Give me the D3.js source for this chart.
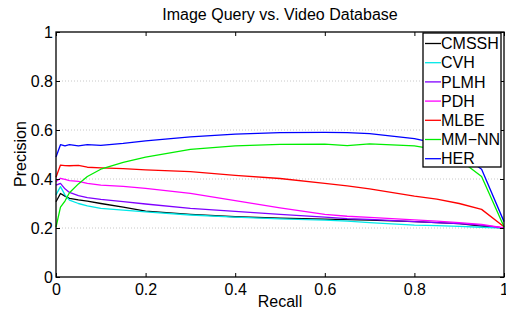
<!DOCTYPE html>
<html><head><meta charset="utf-8">
<script src="https://cdn.jsdelivr.net/npm/d3@7"></script>
<style>body{margin:0;background:#fff;} text{font-family:"Liberation Sans",Arial,Helvetica,sans-serif;}</style>
</head><body><svg id="c" width="506" height="309"></svg>
<script>
const recall = [0, 0.01, 0.02, 0.03, 0.05, 0.07, 0.1, 0.15, 0.2, 0.3, 0.4, 0.5, 0.6, 0.65, 0.7, 0.8, 0.85, 0.9, 0.95, 1];
const CMSSH = [0.307, 0.341, 0.33, 0.321, 0.315, 0.31, 0.3, 0.285, 0.269, 0.256, 0.246, 0.24, 0.236, 0.234, 0.232, 0.226, 0.222, 0.218, 0.208, 0.2];
const CVH   = [0.335, 0.369, 0.335, 0.314, 0.3, 0.29, 0.28, 0.273, 0.266, 0.253, 0.244, 0.237, 0.232, 0.228, 0.222, 0.212, 0.21, 0.207, 0.203, 0.2];
const PLMH  = [0.375, 0.382, 0.36, 0.345, 0.332, 0.324, 0.317, 0.308, 0.298, 0.28, 0.268, 0.256, 0.244, 0.238, 0.235, 0.226, 0.222, 0.218, 0.212, 0.2];
const PDH   = [0.39, 0.403, 0.398, 0.393, 0.39, 0.382, 0.375, 0.37, 0.362, 0.341, 0.312, 0.282, 0.256, 0.248, 0.243, 0.233, 0.228, 0.222, 0.215, 0.2];
const MLBE  = [0.407, 0.457, 0.455, 0.454, 0.456, 0.448, 0.445, 0.442, 0.437, 0.43, 0.415, 0.402, 0.382, 0.372, 0.36, 0.33, 0.318, 0.3, 0.276, 0.205];
const MMNN  = [0.204, 0.285, 0.31, 0.344, 0.38, 0.41, 0.44, 0.468, 0.489, 0.521, 0.535, 0.541, 0.542, 0.536, 0.543, 0.535, 0.52, 0.48, 0.41, 0.205];
const HER   = [0.49, 0.54, 0.535, 0.54, 0.535, 0.54, 0.537, 0.545, 0.556, 0.572, 0.583, 0.589, 0.59, 0.589, 0.585, 0.565, 0.545, 0.505, 0.44, 0.226];
const seriesNames = ["CMSSH", "CVH", "PLMH", "PDH", "MLBE", "MM\u2212NN", "HER"];
const seriesValues = [CMSSH, CVH, PLMH, PDH, MLBE, MMNN, HER];
const seriesColors = ["#000000", "#00e8e8", "#8000ff", "#ff00ff", "#ff0000", "#00ee00", "#0000ff"];
const xTicks = [0, 0.2, 0.4, 0.6, 0.8, 1];
const yTicks = [0, 0.2, 0.4, 0.6, 0.8, 1];
const title = "Image Query vs. Video Database";

const svg = d3.select("#c");
const L = 56, R = 504, T = 32, B = 277;
const x = d3.scaleLinear().domain([0, 1]).range([L, R]);
const y = d3.scaleLinear().domain([0, 1]).range([B, T]);

// grid
svg.append("g").selectAll("line").data(yTicks.filter(d => d > 0 && d < 1)).join("line")
  .attr("x1", L).attr("x2", R).attr("y1", d => y(d)).attr("y2", d => y(d))
  .attr("stroke", "#c8c8c8").attr("stroke-width", 1).attr("stroke-dasharray", "1,2");

// lines
const line = d3.line().x((d, i) => x(recall[i])).y(d => y(d));
seriesValues.forEach((vals, k) => {
  svg.append("path").datum(vals).attr("d", line).attr("fill", "none")
    .attr("stroke", seriesColors[k]).attr("stroke-width", 1.3).attr("stroke-linejoin", "round");
});

// axes
const fs = "16px";
const bx = svg.append("g").attr("transform", `translate(0,${B})`)
  .call(d3.axisBottom(x).tickValues(xTicks).tickFormat(d3.format("~g")).tickSizeInner(-4).tickSizeOuter(0).tickPadding(7));
const tx = svg.append("g").attr("transform", `translate(0,${T})`)
  .call(d3.axisTop(x).tickValues(xTicks).tickFormat("").tickSizeInner(-4).tickSizeOuter(0));
const ly = svg.append("g").attr("transform", `translate(${L},0)`)
  .call(d3.axisLeft(y).tickValues(yTicks).tickFormat(d3.format("~g")).tickSizeInner(-4).tickSizeOuter(0).tickPadding(3));
const ry = svg.append("g").attr("transform", `translate(${R},0)`)
  .call(d3.axisRight(y).tickValues(yTicks).tickFormat("").tickSizeInner(-4).tickSizeOuter(0));
[bx, tx, ly, ry].forEach(g => {
  g.select(".domain").remove();
  g.selectAll("line").attr("stroke", "#000");
  g.selectAll("text").attr("font-size", fs).attr("fill", "#000").attr("font-family", "Liberation Sans, Arial, sans-serif");
});
bx.selectAll("text").attr("dy", "0.71em");

svg.append("rect").attr("x", L).attr("y", T).attr("width", R - L).attr("height", B - T)
  .attr("fill", "none").attr("stroke", "#000").attr("stroke-width", 1.3);

// labels
svg.append("text").attr("x", 280).attr("y", 20).attr("text-anchor", "middle").attr("font-size", "16px").text(title);
svg.append("text").attr("x", 280).attr("y", 307).attr("text-anchor", "middle").attr("font-size", "16px").text("Recall");
svg.append("text").attr("transform", "translate(26,154) rotate(-90)").attr("text-anchor", "middle").attr("font-size", "16px").text("Precision");

// legend
const lg = svg.append("g");
lg.append("rect").attr("x", 423).attr("y", 33).attr("width", 78).attr("height", 134)
  .attr("fill", "#fff").attr("stroke", "#000").attr("stroke-width", 1.3);
seriesNames.forEach((n, k) => {
  const cy = 43.5 + k * 19.2;
  lg.append("line").attr("x1", 425).attr("x2", 441).attr("y1", cy).attr("y2", cy)
    .attr("stroke", seriesColors[k]).attr("stroke-width", 1.3);
  lg.append("text").attr("x", 441).attr("y", cy).attr("dy", "0.36em").attr("font-size", "16px").text(n);
});
</script></body></html>
